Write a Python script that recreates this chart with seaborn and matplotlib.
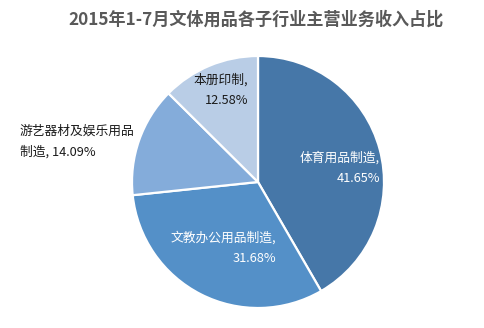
import matplotlib
matplotlib.use("Agg")
import matplotlib.pyplot as plt
import seaborn as sns

# Segment shares of main-business revenue, Jan–Jul 2015
categories = ["体育用品制造", "文教办公用品制造", "游艺器材及娱乐用品制造", "本册印制"]
shares = [41.65, 31.68, 14.09, 12.58]
title = "2015年1-7月文体用品各子行业主营业务收入占比"

sns.set_theme(style="white")
plt.rcParams["font.family"] = ["Noto Sans CJK SC", "DejaVu Sans"]

colors = sns.color_palette(["#4677A8", "#5490C8", "#84ACDA", "#B9CDE6"])

fig = plt.figure(figsize=(4.85, 3.28), dpi=100)
W, H = 485, 328
cx, cy, r = 258, 182, 126
ax = fig.add_axes([(cx - r) / W, (H - cy - r) / H, 2 * r / W, 2 * r / H])

ax.pie(shares, colors=colors, startangle=90, counterclock=False, radius=1,
       wedgeprops=dict(edgecolor="white", linewidth=1.6))
ax.set_xlim(-1, 1)
ax.set_ylim(-1, 1)
ax.set_aspect("equal")
ax.axis("off")

def px(x, y):
    return (x - cx) / r, (cy - y) / r

labels = [f"{c},\n{v:.2f}%" for c, v in zip(categories, shares)]
labels[2] = f"游艺器材及娱乐用品\n制造, {shares[2]:.2f}%"

spec = [
    (px(380, 168), "right", "white"),
    (px(276, 248), "right", "white"),
    (px(20, 142), "left", "#1a1a1a"),
    (px(248, 90), "right", "#1a1a1a"),
]
for lab, ((x, y), ha, col) in zip(labels, spec):
    ax.text(x, y, lab, ha=ha, va="center", multialignment=ha, color=col,
            fontsize=9.2, linespacing=1.7, clip_on=False)

fig.text(256 / W, 1 - 20 / H, title, ha="center", va="center",
         fontsize=12.3, fontweight="bold", color="#595959")

fig.savefig("out.png", dpi=100)
